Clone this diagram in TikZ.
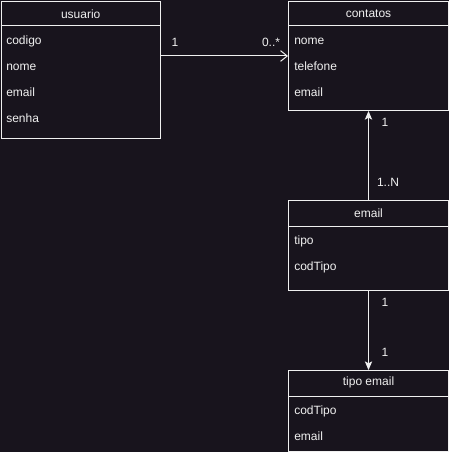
\documentclass[tikz,border=0pt]{standalone}
\usepackage{fontspec}
\setmainfont{Liberation Sans}
\usetikzlibrary{positioning,arrows.meta}
\definecolor{bgdark}{RGB}{24,20,29}
\definecolor{fgline}{RGB}{240,240,240}
\tikzset{
  classBox/.style={rectangle, draw=fgline, line width=0.75pt, anchor=north west, inner sep=0pt, minimum width=120pt},
  headTxt/.style={inner sep=0pt, minimum height=18.75pt, text=fgline},
  attrTxt/.style={anchor=west, inner sep=0pt, text=fgline, text height=1.5ex, text depth=.25ex},
  multTxt/.style={inner sep=0pt, text=fgline, text height=1.5ex, text depth=.25ex},
  openOp/.style={draw=fgline, line width=0.75pt, -{Straight Barb[length=5pt,width=8pt]}},
  fillOp/.style={draw=fgline, line width=0.75pt, -{Stealth[length=6.5pt,width=5.5pt,inset=1.5pt]}}
}
\begin{document}
\begin{tikzpicture}[x=0.75pt, y=-0.75pt, font={\fontsize{9pt}{11pt}\selectfont}]

      \fill[bgdark] (0,0) rectangle (449,452);
      \useasboundingbox (0,0) rectangle (449,452);

      % usuario
      \node[classBox, minimum width=119.6pt, minimum height=102.75pt] (usuario) at (0.5,1) {};
      \node[headTxt, below=0pt of usuario.north] (usuarioHead) {usuario};
      \draw[fgline, line width=0.75pt] (0.5,26) -- (160,26);
      \foreach \txt [count=\i] in {codigo,nome,email,senha}
        \node[attrTxt] (usuario-\i) at (6,{14+26*\i}) {\txt};

      % contatos
      \node[classBox, minimum height=81.75pt] (contatos) at (288,1) {};
      \node[headTxt, below=0pt of contatos.north] (contatosHead) {contatos};
      \draw[fgline, line width=0.75pt] (288,26) -- (448,26);
      \foreach \txt [count=\i] in {nome,telefone,email}
        \node[attrTxt] (contatos-\i) at (294,{14+26*\i}) {\txt};

      % email
      \node[classBox, minimum height=67.5pt] (email) at (288,200) {};
      \node[headTxt, below=0pt of email.north] (emailHead) {email};
      \draw[fgline, line width=0.75pt] (288,226) -- (448,226);
      \foreach \txt [count=\i] in {tipo,codTipo}
        \node[attrTxt] (email-\i) at (294,{214+26*\i}) {\txt};

      % tipo email
      \node[classBox, minimum height=60.75pt] (tipoEmail) at (288,370) {};
      \node[headTxt, below=0pt of tipoEmail.north] (tipoEmailHead) {tipo email};
      \draw[fgline, line width=0.75pt] (288,396) -- (448,396);
      \foreach \txt [count=\i] in {codTipo,email}
        \node[attrTxt] (tipoEmail-\i) at (294,{384+26*\i}) {\txt};

      % associations
      \draw[openOp] (usuario.east |- contatos.west) -- (contatos.west);
      \node[multTxt] (multA) at (175,42) {1};
      \node[multTxt] (multB) at (271,42) {0..*};

      \draw[fillOp] (email.north) -- (contatos.south);
      \node[multTxt] (multC) at (385,122) {1};
      \node[multTxt] (multD) at (388,182) {1..N};

      \draw[fillOp] (email.south) -- (tipoEmail.north);
      \node[multTxt] (multE) at (385,302) {1};
      \node[multTxt] (multF) at (385,352) {1};

    \end{tikzpicture}
\end{document}
